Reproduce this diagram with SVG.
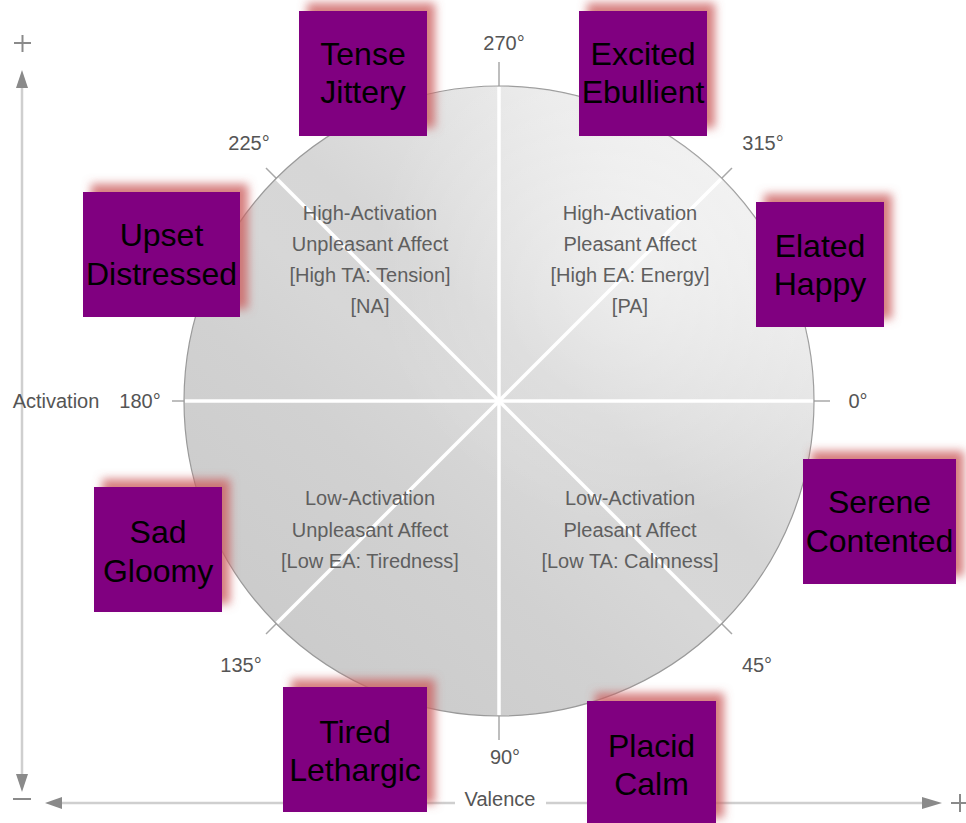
<svg xmlns="http://www.w3.org/2000/svg" width="966" height="823" viewBox="0 0 966 823">
  <style>
    .lbl { font-family: "Liberation Sans", Arial, sans-serif; font-size: 20px; fill: #555; text-anchor: middle; }
    .quad { font-family: "Liberation Sans", Arial, sans-serif; font-size: 20px; fill: #5f5f5f; text-anchor: middle; }
    .box { fill: #800080; filter: url(#glow); }
    .name { font-family: "Liberation Sans", Arial, sans-serif; font-size: 32px; fill: #000; text-anchor: middle; }
    .tick { stroke: #a8a8a8; stroke-width: 1.5; }
    .spoke { stroke: #ffffff; stroke-width: 3.5; }
    .axis { stroke: #cfcfcf; stroke-width: 2.5; fill: none; }
    .sign { stroke: #8a8a8a; stroke-width: 2; }
  </style>
  <defs>
    <linearGradient id="disc" x1="0.15" y1="0.9" x2="0.85" y2="0.1">
      <stop offset="0" stop-color="#cbcbcb"/>
      <stop offset="0.3" stop-color="#d1d1d1"/>
      <stop offset="0.45" stop-color="#d7d7d7"/>
      <stop offset="0.58" stop-color="#d6d6d6"/>
      <stop offset="0.72" stop-color="#dfdfdf"/>
      <stop offset="0.88" stop-color="#e9e9e9"/>
      <stop offset="1" stop-color="#eeeeee"/>
    </linearGradient>
    <radialGradient id="sheen" cx="0.72" cy="0.28" r="0.42">
      <stop offset="0" stop-color="#ffffff" stop-opacity="0.45"/>
      <stop offset="1" stop-color="#ffffff" stop-opacity="0"/>
    </radialGradient>
    <filter id="glow" x="-20%" y="-25%" width="150%" height="150%">
      <feDropShadow dx="8" dy="-8" stdDeviation="5" flood-color="#cc5f5f" flood-opacity="0.8"/>
    </filter>
  </defs>

  <rect width="966" height="823" fill="#ffffff"/>

  <!-- outer axes: activation (vertical) and valence (horizontal) -->
  <g id="axes">
    <line class="axis" x1="22" y1="88" x2="22" y2="774"/>
    <path d="M22,70 L16,88 L28,88 z" fill="#8a8a8a"/>
    <path d="M22,792 L16,774 L28,774 z" fill="#8a8a8a"/>
    <line class="axis" x1="62" y1="803" x2="455" y2="803"/>
    <line class="axis" x1="546" y1="803" x2="922" y2="803"/>
    <path d="M45,803 L62,797 L62,809 z" fill="#8a8a8a"/>
    <path d="M942,803 L922,797 L922,809 z" fill="#8a8a8a"/>
    <line class="sign" x1="14" y1="43" x2="31" y2="43"/>
    <line class="sign" x1="22.5" y1="35" x2="22.5" y2="52"/>
    <line class="sign" x1="13" y1="799" x2="31" y2="799"/>
    <line class="sign" x1="951" y1="803" x2="966" y2="803"/>
    <line class="sign" x1="960" y1="794" x2="960" y2="812"/>
    <text class="lbl" x="56" y="408">Activation</text>
    <text class="lbl" x="500" y="806">Valence</text>
  </g>

  <!-- circumplex disc -->
  <g id="disc-group">
    <g class="tick">
      <line x1="499" y1="62" x2="499" y2="740"/>
      <line x1="172" y1="401" x2="830" y2="401"/>
      <line x1="266" y1="168" x2="732" y2="634"/>
      <line x1="732" y1="168" x2="266" y2="634"/>
    </g>
    <circle cx="499" cy="401" r="315" fill="url(#disc)" stroke="#9a9a9a" stroke-width="1.2"/>
    <circle cx="499" cy="401" r="315" fill="url(#sheen)"/>
    <g class="spoke">
      <line x1="499" y1="87" x2="499" y2="715"/>
      <line x1="185" y1="401" x2="813" y2="401"/>
      <line x1="277" y1="179" x2="721" y2="623"/>
      <line x1="721" y1="179" x2="277" y2="623"/>
    </g>
  </g>

  <!-- angle labels -->
  <g id="angles">
    <text class="lbl" x="504" y="50">270°</text>
    <text class="lbl" x="249" y="150">225°</text>
    <text class="lbl" x="763" y="150">315°</text>
    <text class="lbl" x="140" y="408">180°</text>
    <text class="lbl" x="858" y="408">0°</text>
    <text class="lbl" x="241" y="672">135°</text>
    <text class="lbl" x="757" y="672">45°</text>
    <text class="lbl" x="505" y="764">90°</text>
  </g>

  <!-- quadrant descriptions -->
  <g id="quadrants">
    <text class="quad" x="370" y="220">High-Activation</text>
    <text class="quad" x="370" y="251">Unpleasant Affect</text>
    <text class="quad" x="370" y="282">[High TA: Tension]</text>
    <text class="quad" x="370" y="313">[NA]</text>
    <text class="quad" x="630" y="220">High-Activation</text>
    <text class="quad" x="630" y="251">Pleasant Affect</text>
    <text class="quad" x="630" y="282">[High EA: Energy]</text>
    <text class="quad" x="630" y="313">[PA]</text>
    <text class="quad" x="370" y="505">Low-Activation</text>
    <text class="quad" x="370" y="537">Unpleasant Affect</text>
    <text class="quad" x="370" y="568">[Low EA: Tiredness]</text>
    <text class="quad" x="630" y="505">Low-Activation</text>
    <text class="quad" x="630" y="537">Pleasant Affect</text>
    <text class="quad" x="630" y="568">[Low TA: Calmness]</text>
  </g>

  <!-- mood nodes -->
  <g id="node-tense">
    <rect class="box" x="299" y="11" width="128" height="125"/>
    <text class="name" x="363" y="65">Tense</text>
    <text class="name" x="363" y="103">Jittery</text>
  </g>
  <g id="node-excited">
    <rect class="box" x="579" y="11" width="128" height="125"/>
    <text class="name" x="643" y="65">Excited</text>
    <text class="name" x="643" y="103">Ebullient</text>
  </g>
  <g id="node-upset">
    <rect class="box" x="83" y="192" width="157" height="125"/>
    <text class="name" x="161.5" y="246">Upset</text>
    <text class="name" x="161.5" y="285">Distressed</text>
  </g>
  <g id="node-elated">
    <rect class="box" x="756" y="202" width="128" height="125"/>
    <text class="name" x="820" y="257">Elated</text>
    <text class="name" x="820" y="295">Happy</text>
  </g>
  <g id="node-sad">
    <rect class="box" x="94" y="487" width="128" height="125"/>
    <text class="name" x="158" y="543">Sad</text>
    <text class="name" x="158" y="582">Gloomy</text>
  </g>
  <g id="node-serene">
    <rect class="box" x="803" y="459" width="153" height="125"/>
    <text class="name" x="879.5" y="513">Serene</text>
    <text class="name" x="879.5" y="552">Contented</text>
  </g>
  <g id="node-tired">
    <rect class="box" x="283" y="687" width="144" height="125"/>
    <text class="name" x="355" y="743">Tired</text>
    <text class="name" x="355" y="781">Lethargic</text>
  </g>
  <g id="node-placid">
    <rect class="box" x="587" y="701" width="129" height="125"/>
    <text class="name" x="651.5" y="757">Placid</text>
    <text class="name" x="651.5" y="795">Calm</text>
  </g>
</svg>
